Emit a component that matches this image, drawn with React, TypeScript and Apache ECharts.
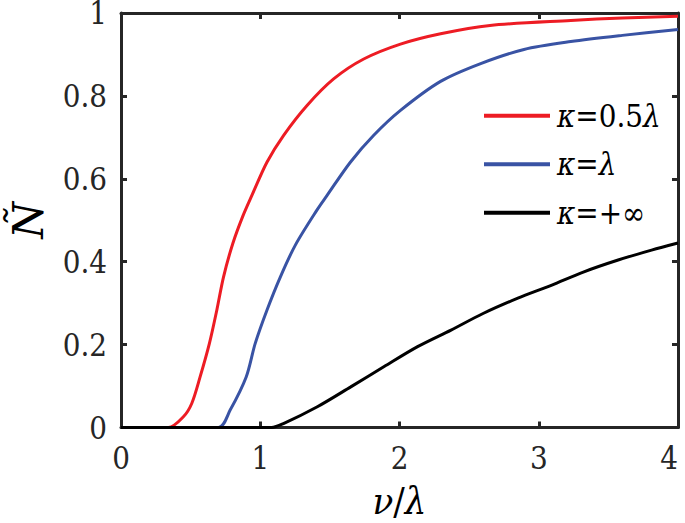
import React, { useEffect, useRef } from "react";
import * as echarts from "echarts";

const xTicks = [0, 1, 2, 3, 4];
const yTicks = [0, 0.2, 0.4, 0.6, 0.8, 1];

const redX = [0, 0.34, 0.448, 0.508, 0.568, 0.635, 0.688, 0.736, 0.803, 0.875, 0.94, 1.048, 1.168, 1.336, 1.527, 1.743, 2.007, 2.295, 2.65, 3.23, 3.6, 4.0];
const redY = [0, 0, 0.026, 0.058, 0.122, 0.203, 0.283, 0.363, 0.444, 0.51, 0.56, 0.64, 0.705, 0.777, 0.841, 0.889, 0.925, 0.95, 0.97, 0.982, 0.988, 0.992];

const blueX = [0, 0.7, 0.784, 0.899, 0.964, 1.048, 1.144, 1.252, 1.408, 1.48, 1.647, 1.815, 2.007, 2.295, 2.583, 2.894, 3.23, 3.6, 4.0];
const blueY = [0, 0, 0.042, 0.122, 0.203, 0.283, 0.363, 0.44, 0.525, 0.56, 0.64, 0.705, 0.765, 0.835, 0.878, 0.912, 0.931, 0.946, 0.96];

const blackX = [0, 1.08, 1.17, 1.41, 1.65, 1.89, 2.13, 2.37, 2.6, 2.85, 3.09, 3.32, 3.57, 3.81, 4.0];
const blackY = [0, 0, 0.01, 0.05, 0.098, 0.147, 0.195, 0.235, 0.275, 0.312, 0.343, 0.375, 0.404, 0.428, 0.445];

const seriesNames = ["κ=0.5λ", "κ=λ", "κ=+∞"];
const seriesColors = ["#ED1C24", "#3953A4", "#000000"];

const FONT = "DejaVu Serif Condensed";
const F_YN = "DejaVu Serif";
const AXIS_COLOR = "#262626";

function pairs(xs: number[], ys: number[]) {
  return xs.map((x, i) => [x, ys[i]]);
}

export default function App() {
  const ref = useRef<HTMLDivElement>(null);
  useEffect(() => {
    if (!ref.current) return;
    const chart = echarts.init(ref.current, null, { renderer: "svg" });
    const axisLine = { show: true, onZero: false, lineStyle: { color: AXIS_COLOR, width: 3 } };
    const tick = { show: true, inside: true, length: 6, lineStyle: { color: AXIS_COLOR, width: 3 } };
    const datas = [pairs(redX, redY), pairs(blueX, blueY), pairs(blackX, blackY)];
    const legendRich = {
      i: { fontStyle: "italic", fontFamily: FONT, fontSize: 31, color: "#000", lineHeight: 34 },
    };
    chart.setOption({
      animation: false,
      textStyle: { fontFamily: FONT },
      grid: { left: 121, right: 7, top: 13, bottom: 95.5, containLabel: false, outerBoundsMode: "none" },
      xAxis: [
        {
          type: "value", min: xTicks[0], max: xTicks[xTicks.length - 1], interval: 1,
          axisLine, axisTick: tick, splitLine: { show: false },
          axisLabel: { color: AXIS_COLOR, fontFamily: FONT, fontSize: 31, lineHeight: 24, margin: 18, alignMaxLabel: "right", formatter: (v: number) => String(v) },
          name: "{i|ν}/{i|λ}", nameLocation: "middle", nameGap: 54,
          nameTextStyle: { fontFamily: FONT, fontSize: 38, lineHeight: 38, color: "#000", rich: { i: { fontStyle: "italic", fontFamily: FONT, fontSize: 38, lineHeight: 38, color: "#000" } } },
        },
        {
          type: "value", position: "top", min: 0, max: 4, interval: 1,
          axisLine, axisTick: tick, axisLabel: { show: false }, splitLine: { show: false },
        },
      ],
      yAxis: [
        {
          type: "value", min: yTicks[0], max: yTicks[yTicks.length - 1], interval: 0.2,
          axisLine, axisTick: tick, splitLine: { show: false },
          axisLabel: { color: AXIS_COLOR, fontFamily: FONT, fontSize: 31, lineHeight: 24, margin: 14, formatter: (v: number) => String(+v.toFixed(1)) },
          name: "Ñ", nameLocation: "middle", nameRotate: 90, nameGap: 72,
          nameTextStyle: { fontFamily: F_YN, fontSize: 42, lineHeight: 42, fontStyle: "italic", color: "#000" },
        },
        {
          type: "value", position: "right", min: 0, max: 1, interval: 0.2,
          axisLine, axisTick: tick, axisLabel: { show: false }, splitLine: { show: false },
        },
      ],
      legend: {
        orient: "vertical", left: 479, top: 93.7, itemGap: 14.5,
        icon: "rect", itemWidth: 66, itemHeight: 4,
        data: seriesNames,
        textStyle: { fontFamily: FONT, fontSize: 31, color: "#000", lineHeight: 34, padding: [0, 0, 0, 2], rich: legendRich },
        formatter: (name: string) => name.replace(/κ/g, "{i|κ}").replace(/λ/g, "{i|λ}"),
      },
      series: seriesNames.map((n, i) => ({
        name: n, type: "line", data: datas[i], showSymbol: false, symbol: "none",
        smooth: 0.3,
        lineStyle: { color: seriesColors[i], width: 3 }, itemStyle: { color: seriesColors[i] },
        z: 2 + i,
      })),
    });
    return () => chart.dispose();
  }, []);
  return <div ref={ref} style={{ position: "fixed", left: 0, top: 0, width: 685, height: 523, background: "#fff" }} />;
}
